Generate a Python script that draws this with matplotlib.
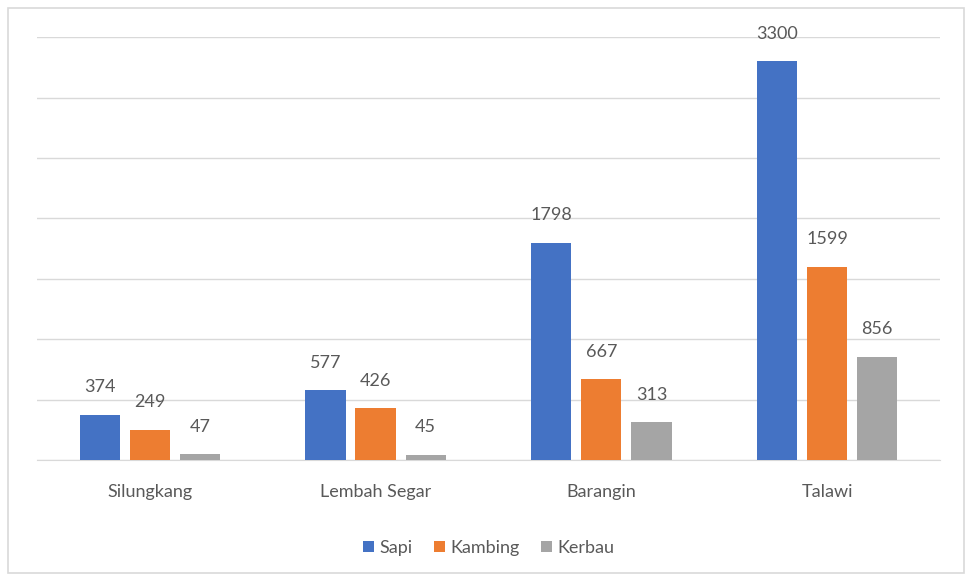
import numpy as np
import matplotlib.pyplot as plt
from matplotlib.patches import Rectangle

# Data
categories = ["Silungkang", "Lembah Segar", "Barangin", "Talawi"]
sapi = [374, 577, 1798, 3300]
kambing = [249, 426, 667, 1599]
kerbau = [47, 45, 313, 856]

series = [("Sapi", sapi, "#4472C4"),
          ("Kambing", kambing, "#ED7D31"),
          ("Kerbau", kerbau, "#A5A5A5")]

plt.rcParams["font.family"] = ["Lato", "DejaVu Sans"]
text_color = "#595959"

fig = plt.figure(figsize=(9.72, 5.8), dpi=100)
ax = fig.add_axes([0.038, 0.207, 0.929, 0.729])

# outer chart frame
fig.patches.append(Rectangle((0.008, 0.012), 0.984, 0.975, transform=fig.transFigure,
                             fill=False, edgecolor="#D9D9D9", linewidth=1.2))

x = np.arange(len(categories))
width = 0.178
offset = 0.222

for i, (name, vals, color) in enumerate(series):
    pos = x + (i - 1) * offset
    bars = ax.bar(pos, vals, width, color=color, label=name, zorder=3)
    for b, v in zip(bars, vals):
        ax.annotate(str(v), (b.get_x() + b.get_width() / 2, v), xytext=(0, 14),
                    textcoords="offset points", ha="center", va="bottom",
                    fontsize=13, color=text_color)

ax.set_xlim(-0.5, 3.5)
ax.set_ylim(0, 3500)
ax.set_yticks(np.arange(0, 3501, 500))
ax.set_yticklabels([])
ax.tick_params(axis="y", length=0)
ax.tick_params(axis="x", length=0, pad=17, labelsize=13, labelcolor=text_color)
ax.set_xticks(x)
ax.set_xticklabels(categories)
ax.grid(axis="y", color="#D9D9D9", linewidth=1, zorder=0)
for s in ["top", "right", "left"]:
    ax.spines[s].set_visible(False)
ax.spines["bottom"].set_color("#D9D9D9")

ax.legend(loc="upper center", bbox_to_anchor=(0.5, -0.15), ncol=3, frameon=False,
          fontsize=13, labelcolor=text_color, handlelength=0.6, handleheight=0.6,
          handletextpad=0.3, columnspacing=1.2)

fig.savefig("out.png", dpi=100)
